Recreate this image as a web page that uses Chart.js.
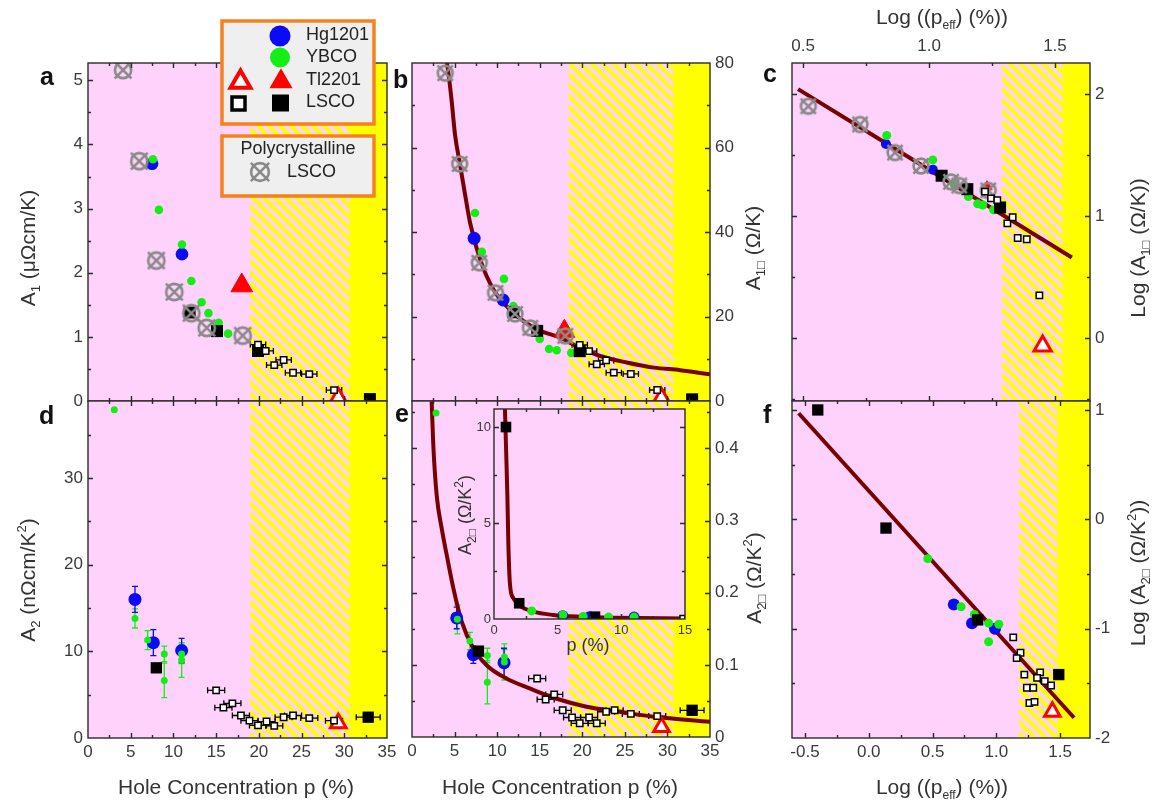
<!DOCTYPE html>
<html>
<head>
<meta charset="utf-8">
<title>Planckian coefficients vs doping</title>
<script src="https://cdn.jsdelivr.net/npm/chart.js@4.4.1/dist/chart.umd.min.js"></script>
<style>
  body { margin: 0; background: #fff; }
  #fig { position: relative; width: 1153px; height: 805px; overflow: hidden; }
  #fig canvas { position: absolute; left: 0; top: 0; }
</style>
</head>
<body>
<div id="fig">
  <canvas id="pa" width="1153" height="805"></canvas>
  <canvas id="pb" width="1153" height="805"></canvas>
  <canvas id="pc" width="1153" height="805"></canvas>
  <canvas id="pd" width="1153" height="805"></canvas>
  <canvas id="pe" width="1153" height="805"></canvas>
  <canvas id="pf" width="1153" height="805"></canvas>
  <canvas id="pi" width="1153" height="805"></canvas>
</div>
<script>
// ---------- data: [p (%), value] or [log p_eff, log value] ----------
const legendNames = ['Hg1201', 'YBCO', 'Tl2201', 'LSCO'];

// a: A1 (µΩcm/K)
const aPoly = [[4.1, 5.16], [6.0, 3.74], [8.0, 2.19], [10.1, 1.70], [12.1, 1.37], [13.9, 1.14], [18.1, 1.02]];
const aHg = [[7.5, 3.70], [11.0, 2.29]];
const aYbco = [[7.6, 3.77], [8.3, 2.98], [11.0, 2.44], [12.1, 1.87], [13.3, 1.54], [14.1, 1.37], [15.3, 1.22], [16.4, 1.05]];
const aTlFilled = [[18.0, 1.80]];
const aTlOpen = [[29.3, 0.05]];
const aLscoFilled = [[11.9, 1.38], [15.1, 1.09], [19.9, 0.78], [33.0, 0.03]];
const aLscoOpen = [[19.9, 0.88], [20.8, 0.78], [21.8, 0.56], [22.9, 0.64], [24.0, 0.44], [25.9, 0.42], [28.8, 0.17]];
const aLscoOpenErr = [0.9, 0.9, 0.9, 0.9, 0.9, 0.9, 0.9];

// b: A1 per sheet (Ω/K)
const bPoly = [[3.9, 77.6], [5.6, 56.1], [7.9, 32.7], [9.8, 25.6], [12.1, 20.6], [13.9, 17.3], [18.0, 15.4]];
const bHg = [[7.3, 38.5], [10.7, 23.9]];
const bYbco = [[7.4, 44.5], [8.2, 35.3], [10.8, 28.9], [11.9, 22.5], [15.0, 14.7], [16.1, 12.3], [17.0, 12.0], [18.7, 11.4]];
const bTlFilled = [[17.9, 16.5]];
const bTlOpen = [[29.3, 0.7]];
const bLscoFilled = [[11.9, 21.0], [14.7, 16.6], [19.7, 11.8], [32.9, 0.4]];
const bLscoOpen = [[19.7, 13.3], [20.8, 11.8], [21.7, 8.7], [22.8, 9.6], [23.7, 6.7], [25.7, 6.4], [28.8, 2.6]];
const bLscoOpenErr = [0.9, 0.9, 0.9, 0.9, 0.9, 0.9, 0.9];
const bFit = [[4.1, 80], [4.27, 77.7], [4.66, 71.0], [5.05, 63.1], [5.64, 56.0], [6.23, 48.9], [6.82, 42.2], [8.0, 33.5],
  [9.56, 26.4], [11.9, 20.9], [14.65, 17.0], [17.4, 15.0], [19.7, 12.6], [22.1, 10.65], [25.2, 9.1], [28.4, 7.9], [31.5, 7.3], [35.0, 6.3]];

// c: log A1 per sheet vs log p_eff
const cPoly = [[0.521, 1.90], [0.726, 1.75], [0.865, 1.52], [0.968, 1.41], [1.087, 1.28], [1.12, 1.25], [1.235, 1.21]];
const cHg = [[0.829, 1.59], [1.015, 1.38]];
const cYbco = [[0.832, 1.66], [1.015, 1.46], [1.10, 1.26], [1.156, 1.16], [1.193, 1.10], [1.213, 1.09], [1.256, 1.05]];
const cTlFilled = [[1.23, 1.24]];
const cTlOpen = [[1.451, -0.065]];
const cLscoFilled = [[1.05, 1.33], [1.152, 1.22], [1.282, 1.07]];
const cLscoOpen = [[1.222, 1.20], [1.246, 1.145], [1.271, 1.13], [1.311, 0.94], [1.332, 0.99], [1.352, 0.82], [1.388, 0.81], [1.438, 0.35]];
const cFit = [[0.48, 2.04], [1.567, 0.66]];

// d: A2 (nΩcm/K²)
const dYbco = [[3.08, 37.9], [5.5, 13.8], [6.98, 11.3], [8.93, 9.7], [8.93, 6.65], [10.96, 9.7], [10.96, 9.0]];
const dYbcoErr = [0, 1.1, 1.1, 0.9, 2.0, 1.1, 2.0];
const dHg = [[5.5, 16.0], [7.65, 11.0], [10.96, 10.1]];
const dHgErr = [1.5, 1.5, 1.4];
const dLscoFilled = [[8.0, 8.1], [32.8, 2.4]];
const dLscoFilledErr = [0, 1.4];
const dTlOpen = [[29.3, 1.7]];
const dLscoOpen = [[15.0, 5.5], [15.85, 3.5], [16.9, 4.0], [17.9, 2.6], [18.9, 2.0], [19.9, 1.45], [20.9, 1.9], [21.8, 1.4],
  [22.9, 2.4], [24.0, 2.6], [25.9, 2.3], [28.8, 2.0]];
const dLscoOpenErr = [1, 1, 1, 1, 1, 1, 1, 1, 1, 1, 1, 1];

// e: A2 per sheet (Ω/K²)
const eYbco = [[2.82, 0.449], [5.33, 0.163], [6.8, 0.133], [8.85, 0.113], [8.85, 0.076], [10.85, 0.111], [10.85, 0.104]];
const eYbcoErr = [0, 0.02, 0.012, 0.01, 0.03, 0.01, 0.025];
const eHg = [[5.25, 0.165], [7.2, 0.114], [10.81, 0.103]];
const eHgErr = [0.015, 0.012, 0.02];
const eLscoFilled = [[7.8, 0.119], [32.9, 0.037]];
const eLscoFilledErr = [0, 1.4];
const eTlOpen = [[29.3, 0.014]];
const eLscoOpen = [[14.7, 0.081], [15.7, 0.052], [16.7, 0.059], [17.7, 0.037], [18.8, 0.027], [19.7, 0.019], [20.8, 0.027],
  [21.7, 0.019], [22.8, 0.035], [23.8, 0.037], [25.7, 0.032], [28.8, 0.029]];
const eLscoOpenErr = [1, 1, 1, 1, 1, 1, 1, 1, 1, 1, 1, 1];
const eFit = [[2.31, 0.465], [2.5, 0.405], [2.9, 0.335], [3.49, 0.289], [4.08, 0.252], [4.86, 0.206], [5.84, 0.160], [7.2, 0.123],
  [8.77, 0.0995], [11.1, 0.081], [13.9, 0.067], [17.0, 0.053], [20.5, 0.042], [24.4, 0.035], [28.4, 0.028], [35, 0.021]];

// inset of e, full range
const iLscoFilled = [[0.94, 10.0], [1.98, 0.82], [7.93, 0.12]];
const iLscoOpen = [[14.8, 0.05]];
const iYbco = [[2.96, 0.42], [5.4, 0.21], [7.0, 0.13], [9.0, 0.1], [11.0, 0.1]];
const iHg = [[5.4, 0.17], [7.5, 0.12], [11.0, 0.1]];
const iFit = [[0.86, 10.95], [0.94, 9.06], [1.05, 6.46], [1.13, 3.85], [1.26, 1.77], [1.52, 1.08], [2.04, 0.69], [3.09, 0.38],
  [4.66, 0.21], [6.76, 0.12], [9.4, 0.07], [15, 0.03]];

// f: log A2 per sheet vs log p_eff
const fLscoFilled = [[-0.40, 1.0], [0.135, -0.08], [0.854, -0.92], [1.49, -1.42]];
const fYbco = [[0.463, -0.36], [0.724, -0.80], [0.828, -0.87], [0.94, -0.95], [0.94, -1.12], [1.02, -0.96]];
const fHg = [[0.667, -0.78], [0.81, -0.95], [0.99, -1.0]];
const fLscoOpen = [[1.133, -1.08], [1.19, -1.22], [1.16, -1.27], [1.22, -1.42], [1.344, -1.40], [1.32, -1.45], [1.38, -1.48],
  [1.43, -1.52], [1.24, -1.54], [1.29, -1.54], [1.26, -1.68], [1.30, -1.67]];
const fTlOpen = [[1.44, -1.76]];
const fFit = [[-0.55, 0.97], [1.61, -1.815]];

// crossover (hatched) ranges
const abZone = [19.0, 30.6], beZone = [18.4, 30.7], cZone = [1.29, 1.53], fZone = [1.18, 1.48];

// ticks
const pMajor = [0, 5, 10, 15, 20, 25, 30, 35], pMinor = [2.5, 7.5, 12.5, 17.5, 22.5, 27.5, 32.5];
const aMajor = [0, 1, 2, 3, 4, 5], aMinor = [0.5, 1.5, 2.5, 3.5, 4.5];
const bMajor = [0, 20, 40, 60, 80], bMinor = [10, 30, 50, 70];
const cxMajor = [0.5, 1.0, 1.5], cxMinor = [0.75, 1.25];
const cyMajor = [0, 1, 2], cyMinor = [-0.5, 0.5, 1.5];
const dMajor = [0, 10, 20, 30], dMinor = [5, 15, 25, 35];
const eMajor = [0, 0.1, 0.2, 0.3, 0.4], eMinor = [0.05, 0.15, 0.25, 0.35, 0.45];
const fxMajor = [-0.5, 0, 0.5, 1.0, 1.5], fxMinor = [-0.25, 0.25, 0.75, 1.25];
const fyMajor = [-2, -1, 0, 1], fyMinor = [-1.5, -0.5, 0.5];
const ixMajor = [0, 5, 10, 15], ixMinor = [2.5, 7.5, 12.5];
const iyMajor = [0, 5, 10], iyMinor = [2.5, 7.5];

// ---------- styling ----------
const W = 1153, H = 805;
const FONT = "'Liberation Sans', Arial, sans-serif";
const PINK = '#ffd2fb', YEL = '#ffff00', BLUE = '#0a0af5', GREEN = '#14ee14', RED = '#ff0000';
const FIT = '#780000', GREY = '#8a8a8a', INK = '#333';
Chart.defaults.font.family = FONT;
Chart.defaults.color = INK;

const xy = arr => arr.map(([x, y]) => ({ x, y }));

function crossMark(size) {
  const c = document.createElement('canvas');
  c.width = c.height = size;
  const g = c.getContext('2d');
  const m = size / 2, k = size * 0.12;
  g.strokeStyle = GREY;
  g.lineWidth = 2.6;
  g.beginPath(); g.arc(m, m, size * 0.37, 0, Math.PI * 2); g.stroke();
  g.beginPath();
  g.moveTo(k, k); g.lineTo(size - k, size - k);
  g.moveTo(size - k, k); g.lineTo(k, size - k);
  g.stroke();
  return c;
}
const cross22 = crossMark(22), cross20 = crossMark(20), cross24 = crossMark(24);

let hatchPat = null;
function hatchFill(ctx) {
  if (!hatchPat) {
    const t = document.createElement('canvas');
    t.width = t.height = 11;
    const g = t.getContext('2d');
    g.fillStyle = PINK; g.fillRect(0, 0, 11, 11);
    g.strokeStyle = YEL; g.lineWidth = 4;
    g.beginPath();
    for (const k of [-11, 0, 11]) { g.moveTo(k - 2, -2); g.lineTo(k + 13, 13); }
    g.stroke();
    hatchPat = ctx.createPattern(t, 'repeat');
  }
  return hatchPat;
}

// series styles
const base = d => ({ data: xy(d), showLine: false, clip: 0 });
const poly = (d, img) => ({ ...base(d), pointStyle: img, pointRadius: img.width / 2 });
const dot = (d, col, r, yErr) => ({ ...base(d), pointStyle: 'circle', pointRadius: r, pointBackgroundColor: col, pointBorderColor: col, pointBorderWidth: 0, yErr, errColor: col });
const triFilled = (d, r) => ({ ...base(d), pointStyle: 'triangle', pointRadius: r, pointBackgroundColor: RED, pointBorderColor: RED, pointBorderWidth: 1 });
const triOpen = (d, r) => ({ ...base(d), pointStyle: 'triangle', pointRadius: r, pointBackgroundColor: '#fff', pointBorderColor: RED, pointBorderWidth: 3 });
const sqFilled = (d, r, xErr) => ({ ...base(d), pointStyle: 'rect', pointRadius: r, pointBackgroundColor: '#000', pointBorderColor: '#000', pointBorderWidth: 0, xErr, errColor: '#000' });
const sqOpen = (d, r, xErr) => ({ ...base(d), pointStyle: 'rect', pointRadius: r, pointBackgroundColor: '#fff', pointBorderColor: '#000', pointBorderWidth: 1.5, xErr, errColor: '#000' });
const fit = d => ({ data: xy(d), showLine: true, pointRadius: 0, borderColor: FIT, borderWidth: 4, cubicInterpolationMode: 'monotone', clip: 0 });

// ---------- plugins ----------
const zones = {
  id: 'zones',
  beforeDatasetsDraw(chart) {
    const cfg = panels[chart.canvas.id];
    const { ctx, chartArea: a, scales: { x } } = chart;
    ctx.save();
    ctx.fillStyle = PINK;
    ctx.fillRect(a.left, a.top, a.width, a.height);
    if (cfg.zone) {
      const h0 = x.getPixelForValue(cfg.zone[0]), h1 = x.getPixelForValue(cfg.zone[1]);
      ctx.fillStyle = hatchFill(ctx);
      ctx.fillRect(h0, a.top, h1 - h0, a.height);
      ctx.fillStyle = YEL;
      ctx.fillRect(h1, a.top, a.right - h1, a.height);
    }
    ctx.restore();
  }
};

const errBars = {
  id: 'errBars',
  beforeDatasetsDraw(chart) {
    const { ctx, scales: { x, y } } = chart;
    ctx.save();
    ctx.lineWidth = 1.3;
    chart.data.datasets.forEach(ds => {
      if (!ds.xErr && !ds.yErr) return;
      ctx.strokeStyle = ds.errColor;
      ds.data.forEach((d, i) => {
        const px = x.getPixelForValue(d.x), py = y.getPixelForValue(d.y);
        ctx.beginPath();
        if (ds.xErr && ds.xErr[i]) {
          const x0 = x.getPixelForValue(d.x - ds.xErr[i]), x1 = x.getPixelForValue(d.x + ds.xErr[i]);
          ctx.moveTo(x0, py); ctx.lineTo(x1, py);
          ctx.moveTo(x0, py - 3); ctx.lineTo(x0, py + 3);
          ctx.moveTo(x1, py - 3); ctx.lineTo(x1, py + 3);
        }
        if (ds.yErr && ds.yErr[i]) {
          const y0 = y.getPixelForValue(d.y - ds.yErr[i]), y1 = y.getPixelForValue(d.y + ds.yErr[i]);
          ctx.moveTo(px, y0); ctx.lineTo(px, y1);
          ctx.moveTo(px - 3, y0); ctx.lineTo(px + 3, y0);
          ctx.moveTo(px - 3, y1); ctx.lineTo(px + 3, y1);
        }
        ctx.stroke();
      });
    });
    ctx.restore();
  }
};

// frame with inward ticks on all four sides
const frame = {
  id: 'frame',
  afterDatasetsDraw(chart) {
    const cfg = panels[chart.canvas.id];
    const { ctx, chartArea: a, scales: { x, y } } = chart;
    ctx.save();
    ctx.strokeStyle = '#2b2b2b';
    ctx.lineWidth = 1.4;
    ctx.beginPath();
    const tick = (vals, len) => {
      vals.forEach(v => {
        if (v > cfg.x.min && v < cfg.x.max) {
          const px = Math.round(x.getPixelForValue(v)) + 0.5;
          ctx.moveTo(px, a.bottom); ctx.lineTo(px, a.bottom - len);
          ctx.moveTo(px, a.top); ctx.lineTo(px, a.top + len);
        }
      });
    };
    const tickY = (vals, len) => {
      vals.forEach(v => {
        if (v > cfg.y.min && v < cfg.y.max) {
          const py = Math.round(y.getPixelForValue(v)) + 0.5;
          ctx.moveTo(a.left, py); ctx.lineTo(a.left + len, py);
          ctx.moveTo(a.right, py); ctx.lineTo(a.right - len, py);
        }
      });
    };
    tick(cfg.x.major, 5); tick(cfg.x.minor, 3);
    tickY(cfg.y.major, 5); tickY(cfg.y.minor, 3);
    ctx.stroke();
    ctx.strokeRect(a.left, a.top, a.width, a.height);
    ctx.restore();
  }
};

function drawRich(ctx, it) {
  ctx.save();
  ctx.translate(it.x, it.y);
  if (it.rot) ctx.rotate(it.rot);
  ctx.fillStyle = it.color || INK;
  ctx.textBaseline = 'alphabetic';
  const font = p => (p[3] ? 'bold ' : '') + p[1] + 'px ' + FONT;
  let w = 0;
  for (const p of it.parts) { ctx.font = font(p); w += ctx.measureText(p[0]).width; }
  let cx = it.align === 'left' ? 0 : -w / 2;
  const b = it.parts[0][1] * 0.36;
  for (const p of it.parts) {
    ctx.font = font(p);
    ctx.fillText(p[0], cx, b + (p[2] || 0));
    cx += ctx.measureText(p[0]).width;
  }
  ctx.restore();
}

const texts = {
  id: 'texts',
  afterDraw(chart) {
    (panels[chart.canvas.id].texts || []).forEach(it => drawRich(chart.ctx, it));
  }
};

// sample legend, drawn over panel a
const legendBox = {
  id: 'legendBox',
  afterDraw(chart) {
    const ctx = chart.ctx;
    ctx.save();
    const box = (x, y, w, h) => {
      ctx.fillStyle = '#efefef'; ctx.fillRect(x, y, w, h);
      ctx.strokeStyle = '#f5821f'; ctx.lineWidth = 3.5; ctx.strokeRect(x, y, w, h);
    };
    const tri = (x, y, r) => {
      ctx.beginPath();
      ctx.moveTo(x, y - r); ctx.lineTo(x + r * 0.866, y + r / 2); ctx.lineTo(x - r * 0.866, y + r / 2);
      ctx.closePath();
    };
    box(222, 21, 152, 103);
    box(222, 136, 152, 60);

    ctx.fillStyle = BLUE; ctx.beginPath(); ctx.arc(280, 36, 10.5, 0, Math.PI * 2); ctx.fill();
    ctx.fillStyle = GREEN; ctx.beginPath(); ctx.arc(280, 57.5, 10, 0, Math.PI * 2); ctx.fill();
    tri(240.5, 82, 11.5); ctx.fillStyle = '#fff'; ctx.fill(); ctx.strokeStyle = RED; ctx.lineWidth = 4; ctx.stroke();
    tri(281, 81.5, 13.3); ctx.fillStyle = RED; ctx.fill();
    ctx.fillStyle = '#fff'; ctx.fillRect(232, 97, 13, 13);
    ctx.strokeStyle = '#000'; ctx.lineWidth = 3.5; ctx.strokeRect(232, 97, 13, 13);
    ctx.fillStyle = '#000'; ctx.fillRect(272, 94.5, 17, 17);
    ctx.drawImage(cross24, 260 - 12, 172 - 12);

    ctx.fillStyle = '#222';
    ctx.font = '18px ' + FONT;
    ctx.textBaseline = 'middle';
    ctx.textAlign = 'left';
    [35, 57, 80, 102.5].forEach((ty, i) => ctx.fillText(legendNames[i], 306, ty));
    ctx.fillText(legendNames[3], 287, 172);
    ctx.textAlign = 'center';
    ctx.fillText('Polycrystalline', 298, 149);
    ctx.restore();
  }
};

// ---------- layout ----------
const ROT = -Math.PI / 2;
const letter = (t, x, y) => ({ parts: [[t, 25, 0, true]], x, y, align: 'left', color: '#111' });
const int = v => String(v);
const one = v => v.toFixed(1);

const panels = {
  pa: {
    box: [88, 63, 387, 401], zone: abZone,
    x: { min: 0, max: 35, pos: 'bottom', major: pMajor, minor: pMinor },
    y: { min: 0, max: 5.27, pos: 'left', major: aMajor, minor: aMinor, fmt: int },
    texts: [letter('a', 40, 76),
      { parts: [['A', 21], ['1', 13, 5], [' (\u03bc\u03a9cm/K)', 21]], x: 27, y: 248, rot: ROT }]
  },
  pb: {
    box: [412, 63, 710, 401], zone: beZone,
    x: { min: 0, max: 35, pos: 'bottom', major: pMajor, minor: pMinor },
    y: { min: 0, max: 80, pos: 'right', major: bMajor, minor: bMinor, fmt: int },
    texts: [letter('b', 393, 79),
      { parts: [['A', 21], ['1\u25a1', 13, 5], [' (\u03a9/K)', 21]], x: 752, y: 248, rot: ROT }]
  },
  pc: {
    box: [792, 63, 1090, 401], zone: cZone,
    x: { min: 0.456, max: 1.639, pos: 'top', major: cxMajor, minor: cxMinor, fmt: one, pad: 6 },
    y: { min: -0.516, max: 2.254, pos: 'right', major: cyMajor, minor: cyMinor, fmt: int },
    texts: [letter('c', 763, 73),
      { parts: [['Log (A', 21], ['1\u25a1', 13, 5], [' (\u03a9/K))', 21]], x: 1137, y: 248, rot: ROT },
      { parts: [['Log ((p', 21], ['eff', 12, 5], [') (%))', 21]], x: 942, y: 16 }]
  },
  pd: {
    box: [88, 401, 387, 738], zone: abZone,
    x: { min: 0, max: 35, pos: 'bottom', major: pMajor, minor: pMinor, fmt: int },
    y: { min: 0, max: 38.9, pos: 'left', major: dMajor, minor: dMinor, fmt: int },
    texts: [letter('d', 39, 415),
      { parts: [['A', 21], ['2', 13, 5], [' (n\u03a9cm/K', 21], ['2', 13, -9], [')', 21]], x: 27, y: 580, rot: ROT },
      { parts: [['Hole Concentration p (%)', 21]], x: 236, y: 786 }]
  },
  pe: {
    box: [412, 401, 710, 737], zone: beZone,
    x: { min: 0, max: 35, pos: 'bottom', major: pMajor, minor: pMinor, fmt: int },
    y: { min: 0, max: 0.4656, pos: 'right', major: eMajor, minor: eMinor, fmt: v => (v === 0 ? '0' : v.toFixed(1)) },
    texts: [letter('e', 395, 413),
      { parts: [['A', 21], ['2\u25a1', 13, 5], [' (\u03a9/K', 21], ['2', 13, -9], [')', 21]], x: 753, y: 578, rot: ROT },
      { parts: [['Hole Concentration p (%)', 21]], x: 560, y: 786 }]
  },
  pf: {
    box: [792, 401, 1090, 738], zone: fZone,
    x: { min: -0.602, max: 1.735, pos: 'bottom', major: fxMajor, minor: fxMinor, fmt: one },
    y: { min: -2, max: 1.082, pos: 'right', major: fyMajor, minor: fyMinor, fmt: int },
    texts: [letter('f', 763, 414),
      { parts: [['Log (A', 21], ['2\u25a1', 13, 5], [' (\u03a9/K', 21], ['2', 13, -9], ['))', 21]], x: 1137, y: 573, rot: ROT },
      { parts: [['Log ((p', 21], ['eff', 12, 5], [') (%))', 21]], x: 942, y: 786 }]
  },
  pi: {
    box: [494, 409, 685, 619],
    x: { min: 0, max: 15, pos: 'bottom', major: ixMajor, minor: ixMinor, fmt: int, size: 13, pad: 4 },
    y: { min: 0, max: 10.94, pos: 'left', major: iyMajor, minor: iyMinor, fmt: int, size: 13, pad: 3 },
    texts: [
      { parts: [['A', 18], ['2\u25a1', 12, 5], [' (\u03a9/K', 18], ['2', 12, -8], [')', 18]], x: 465, y: 515, rot: ROT },
      { parts: [['p (%)', 18]], x: 588, y: 645 }]
  }
};

function build(id, datasets, extra) {
  const cfg = panels[id];
  const [l, t, r, b] = cfg.box;
  const depth = a => (a.fmt ? 50 : 0);
  const axis = (a, horiz) => ({
    type: 'linear', position: a.pos, min: a.min, max: a.max,
    grid: { display: false, drawTicks: false },
    border: { display: false },
    ticks: {
      display: !!a.fmt, padding: a.pad || (horiz ? 4 : 5), autoSkip: false, maxRotation: 0,
      color: '#3a3a3a', font: { size: a.size || 17 },
      callback: v => (a.fmt ? a.fmt(v) : '')
    },
    afterBuildTicks: s => { s.ticks = a.major.map(v => ({ value: v })); },
    afterFit: s => { if (horiz) s.height = depth(a); else s.width = depth(a); }
  });
  const pad = {
    left: l - (cfg.y.pos === 'left' ? depth(cfg.y) : 0),
    right: W - r - (cfg.y.pos === 'right' ? depth(cfg.y) : 0),
    top: t - (cfg.x.pos === 'top' ? depth(cfg.x) : 0),
    bottom: H - b - (cfg.x.pos === 'bottom' ? depth(cfg.x) : 0)
  };
  return new Chart(document.getElementById(id), {
    type: 'scatter',
    data: { datasets },
    options: {
      responsive: false, devicePixelRatio: 1, animation: false, events: [],
      layout: { padding: pad },
      plugins: { legend: { display: false }, tooltip: { enabled: false } },
      scales: { x: axis(cfg.x, true), y: axis(cfg.y, false) }
    },
    plugins: [zones, errBars, frame, texts].concat(extra || [])
  });
}

// datasets are listed top-most first
build('pa', [
  poly(aPoly, cross22), sqOpen(aLscoOpen, 4.5, aLscoOpenErr), sqFilled(aLscoFilled, 8.5),
  triOpen(aTlOpen, 9.5), triFilled(aTlFilled, 12.5), dot(aYbco, GREEN, 4.3), dot(aHg, BLUE, 6.3)
], [legendBox]);

build('pb', [
  poly(bPoly, cross20), sqOpen(bLscoOpen, 4.5, bLscoOpenErr), sqFilled(bLscoFilled, 8.5),
  triOpen(bTlOpen, 9.5), triFilled(bTlFilled, 12), dot(bYbco, GREEN, 4.3), dot(bHg, BLUE, 6.5), fit(bFit)
]);

build('pc', [
  sqOpen(cLscoOpen, 4.5), poly(cPoly, cross20), sqFilled(cLscoFilled, 8.5),
  triOpen(cTlOpen, 10), dot(cYbco, GREEN, 4.5), dot(cHg, BLUE, 5), triFilled(cTlFilled, 6), fit(cFit)
]);

build('pd', [
  sqOpen(dLscoOpen, 4.5, dLscoOpenErr), sqFilled(dLscoFilled, 8, dLscoFilledErr), triOpen(dTlOpen, 9),
  dot(dYbco, GREEN, 3.5, dYbcoErr), dot(dHg, BLUE, 6.5, dHgErr)
]);

build('pe', [
  sqOpen(eLscoOpen, 4.5, eLscoOpenErr), sqFilled(eLscoFilled, 8, eLscoFilledErr), triOpen(eTlOpen, 9),
  dot(eYbco, GREEN, 3.5, eYbcoErr), dot(eHg, BLUE, 6.5, eHgErr), fit(eFit)
]);

build('pf', [
  sqOpen(fLscoOpen, 4.5), sqFilled(fLscoFilled, 8), triOpen(fTlOpen, 9),
  dot(fYbco, GREEN, 4.5), dot(fHg, BLUE, 6), fit(fFit)
]);

build('pi', [
  sqOpen(iLscoOpen, 3.5), sqFilled(iLscoFilled, 7.5), dot(iYbco, GREEN, 4.5), dot(iHg, BLUE, 5.5), fit(iFit)
]);
</script>
</body>
</html>
